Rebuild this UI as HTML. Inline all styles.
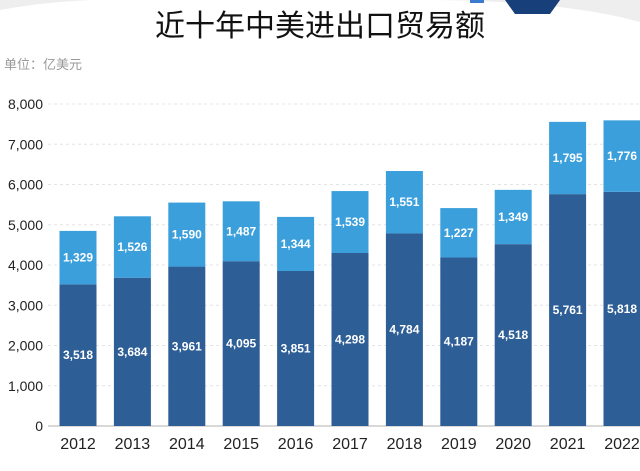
<!DOCTYPE html>
<html><head><meta charset="utf-8"><style>
body{margin:0;background:#fff;width:640px;height:466px;overflow:hidden;font-family:"Liberation Sans","Noto Sans CJK SC",sans-serif}
</style></head><body>
<svg id="c" width="640" height="466">
<path d="M0 10 Q80 -5 200 0 L0 0Z" fill="#eee"/>
<path d="M420 0 L640 0 L640 22 Q560 0 420 0Z" fill="#eee"/>
<path d="M505 0 L560 0 L550 14 L515 14Z" fill="#173f7a"/>
<rect x="470" y="0" width="14" height="3" fill="#3a7bd0"/>
<text x="320" y="36" text-anchor="middle" font-size="30" fill="#111">近十年中美进出口贸易额</text>
<text x="4" y="69" font-size="13" fill="#999">单位：亿美元</text>
<g id="grid"></g><g id="bars"></g>
</svg>
<script>
const years=["2012","2013","2014","2015","2016","2017","2018","2019","2020","2021","2022"];
const exportsVals=[3518,3684,3961,4095,3851,4298,4784,4187,4518,5761,5818];
const importsVals=[1329,1526,1590,1487,1344,1539,1551,1227,1349,1795,1776];
const ticks=[0,1000,2000,3000,4000,5000,6000,7000,8000];
const NS="http://www.w3.org/2000/svg";
const y=v=>426-v*0.04025;
const x=i=>78+i*54.4;
const bw=37;
function mk(t,a,p){const e=document.createElementNS(NS,t);for(const k in a)e.setAttribute(k,a[k]);p.appendChild(e);return e;}
const g=document.getElementById('grid'),b=document.getElementById('bars');
ticks.forEach(v=>{
 const l=mk('line',{x1:48,x2:640,y1:y(v),y2:y(v),stroke:v?'#e4e4e4':'#ccc','stroke-dasharray':v?'3,3':'','stroke-width':v?1:1.5},g);
 
 
 const t=mk('text',{x:43,y:y(v)+5,'text-anchor':'end','font-size':14,fill:'#222'},g);
 t.textContent=v.toLocaleString('en-US');
 
 
});
years.forEach((yr,i)=>{
 const e=exportsVals[i],m=importsVals[i],cx=x(i);
 const r1=mk('rect',{x:cx-bw/2,y:y(e),width:bw,height:y(0)-y(e),fill:'#2e5e96'},b);
 
 
 const r2=mk('rect',{x:cx-bw/2,y:y(e+m),width:bw,height:y(e)-y(e+m),fill:'#3b9fdc'},b);
 
 
 const t1=mk('text',{x:cx,y:y(e/2)+4,'text-anchor':'middle','font-size':12,'font-weight':'bold',fill:'#fff'},b);
 t1.textContent=e.toLocaleString('en-US');
 
 
 const t2=mk('text',{x:cx,y:y(e+m/2)+4,'text-anchor':'middle','font-size':12,'font-weight':'bold',fill:'#fff'},b);
 t2.textContent=m.toLocaleString('en-US');
 
 
 const t3=mk('text',{x:cx,y:449,'text-anchor':'middle','font-size':16,fill:'#222'},b);
 t3.textContent=yr;
 
 
});
</script>
</body></html>
